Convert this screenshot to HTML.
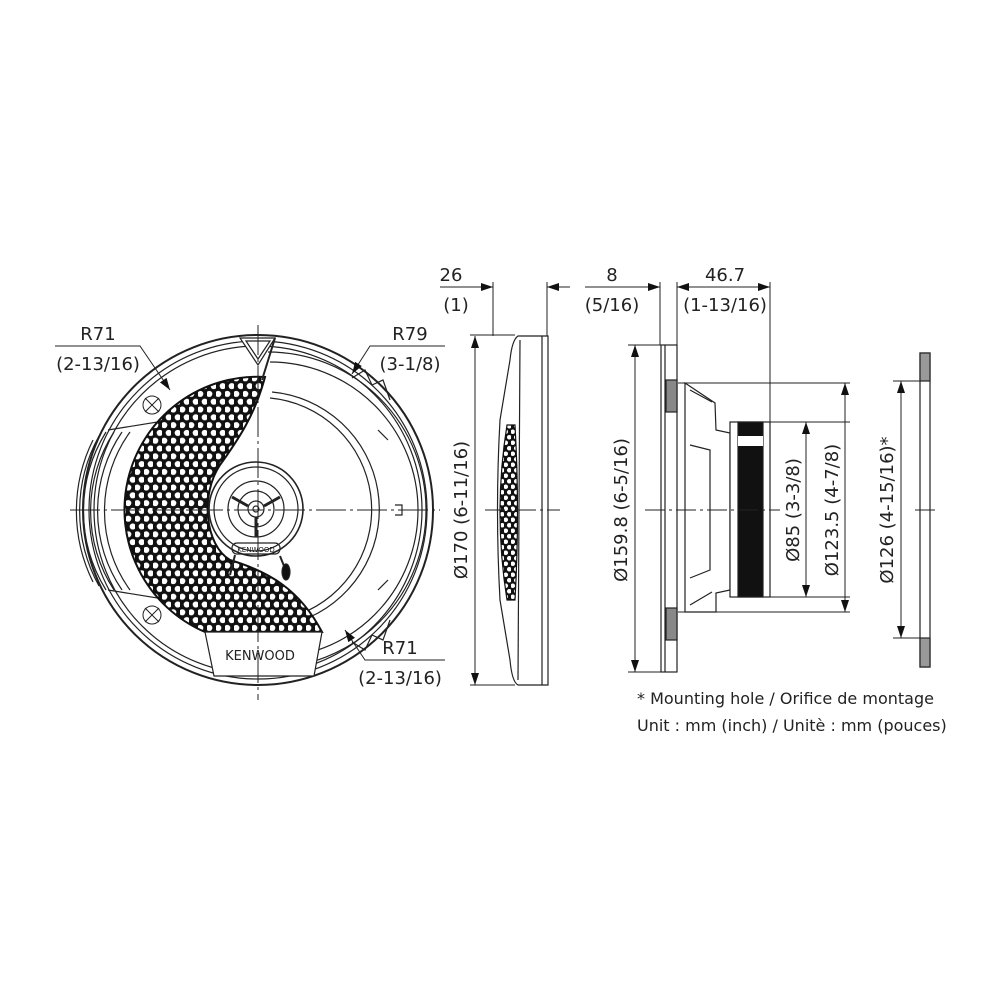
<!DOCTYPE html>
<html><head><meta charset="utf-8"><style>
html,body{margin:0;padding:0;background:#fff;}
svg{display:block}
text{font-family:"DejaVu Sans","Liberation Sans",sans-serif;fill:#222;}
</style></head><body>
<svg width="1000" height="1000" viewBox="0 0 1000 1000" xmlns="http://www.w3.org/2000/svg">
<defs>
<pattern id="dots" width="9" height="15.6" patternUnits="userSpaceOnUse">
<rect width="9" height="15.6" fill="#111"/>
<circle cx="2.25" cy="3.9" r="3.1" fill="#fff"/>
<circle cx="6.75" cy="11.7" r="3.1" fill="#fff"/>
</pattern>
<pattern id="dots2" width="7" height="11" patternUnits="userSpaceOnUse">
<rect width="7" height="11" fill="#111"/>
<circle cx="1.75" cy="2.75" r="2.3" fill="#fff"/>
<circle cx="5.25" cy="8.25" r="2.3" fill="#fff"/>
</pattern>
<marker id="ar" markerWidth="12" markerHeight="8" refX="12" refY="4" orient="auto" markerUnits="userSpaceOnUse">
<path d="M0,0 L12,4 L0,8 Z" fill="#111"/>
</marker>
</defs>
<g fill="none" stroke="#222" stroke-width="1.2">
<!-- FRONT VIEW -->
<circle cx="258" cy="510" r="175" stroke-width="2"/>
<circle cx="258" cy="510" r="169"/>
<circle cx="258" cy="510" r="164"/>
<path d="M268,352 A158,158 0 0 1 268,668"/>
<path d="M270,362 A148,148 0 0 1 270,658"/>
<path d="M270,398 A112,112 0 0 1 300,614"/>
<path d="M272,392 A118,118 0 0 1 310,617"/>
<!-- left rib area -->
<path d="M130,432 A135,135 0 0 0 130,590"/>
<path d="M122,432 A140,140 0 0 0 122,590"/>
<path d="M114,432 A145,145 0 0 0 114,590"/>
<path d="M106,432 A150,150 0 0 0 106,590"/>
<path d="M99,436 A155,155 0 0 0 99,586"/>
<path d="M93,440 A160,160 0 0 0 93,582"/>
<path d="M108,430 L170,420 L175,408"/>
<path d="M108,590 L170,600 L175,612"/>
<!-- grille -->
<path d="M265,377 A133,133 0 0 0 205,632 L322,632 C300,590 270,572 230,560 C205,545 200,495 220,465 C238,440 255,415 265,377 Z" fill="url(#dots)" stroke="#111" stroke-width="2"/>
<!-- top triangle -->
<path d="M240,338 L275,338 L258,365 Z" fill="#fff"/>
<path d="M246,341 L270,341 L258,359 Z"/>
<path d="M275,338 L262,380" stroke-width="2"/>
<!-- screws -->
<g stroke-width="1">
<circle cx="152" cy="405" r="9"/><path d="M145,398 L159,412 M159,398 L145,412"/>
<circle cx="152" cy="615" r="9"/><path d="M145,608 L159,622 M159,608 L145,622"/>
</g>
<!-- badge -->
<path d="M205,632 L322,632 L314,676 L214,676 Z" fill="#fff"/>
<!-- tweeter -->
<circle cx="256" cy="509" r="47" fill="#fff" stroke-width="1.6"/>
<circle cx="256" cy="509" r="42"/>
<circle cx="256" cy="509" r="28"/>
<circle cx="256" cy="509" r="18"/>
<circle cx="256" cy="509" r="8"/>
<circle cx="256" cy="509" r="3"/>
<path d="M232,497 L248,506 M280,497 L264,506 M256,517 L256,537" stroke-width="3"/>
<rect x="232" y="543" width="48" height="11" rx="5"/>
<path d="M235,555 L230,575" stroke-width="2"/>
<path d="M280,556 L284,566" stroke-width="2"/>
<ellipse cx="286" cy="572" rx="4" ry="8" fill="#111"/>
<!-- right side tabs -->
<path d="M352,378 L365,370 L372,385 L383,380 L390,400" />
<path d="M352,642 L365,650 L372,635 L383,640 L390,620"/>
<path d="M395,505 L402,505 L402,515 L395,515"/>
<path d="M378,430 L388,440 M378,590 L388,580"/>
<!-- centerlines -->
<path d="M70,510 L440,510 M258,325 L258,700" stroke-width="1" stroke-dasharray="30,4,3,4"/>
<!-- leaders -->
<path d="M55,346 L140,346 L170,390" stroke-width="1" marker-end="url(#ar)"/>
<path d="M445,346 L370,346 L352,374" stroke-width="1" marker-end="url(#ar)"/>
<path d="M445,660 L365,660 L345,630" stroke-width="1" marker-end="url(#ar)"/>

<!-- SIDE VIEW 1 -->
<path d="M548,336 L518,336 Q512,340 510,360 L500,420 Q495,510 500,600 L510,660 Q512,682 518,685 L548,685 Z" fill="#fff"/>
<path d="M542,336 L542,685"/>
<path d="M520,340 L518,680"/>
<path d="M507,425 Q493,512 507,600 L515,600 Q520,512 515,425 Z" fill="url(#dots2)" stroke="#111"/>
<path d="M493,282 L493,336 M547,282 L547,336" stroke-width="1"/>
<path d="M440,287 L493,287" stroke-width="1" marker-end="url(#ar)"/>
<path d="M570,287 L547,287" stroke-width="1" marker-end="url(#ar)"/>
<path d="M470,335 L515,335 M470,685 L515,685" stroke-width="1"/>
<path d="M475,510 L475,336" stroke-width="1" marker-end="url(#ar)"/>
<path d="M475,510 L475,685" stroke-width="1" marker-end="url(#ar)"/>
<path d="M485,510 L560,510" stroke-width="1" stroke-dasharray="20,4,3,4"/>

<!-- SIDE VIEW 2 -->
<path d="M660,282 L660,345 M677,282 L677,345 M770,282 L770,422" stroke-width="1"/>
<path d="M585,287 L660,287" stroke-width="1" marker-end="url(#ar)"/>
<path d="M720,287 L677,287" stroke-width="1" marker-end="url(#ar)"/>
<path d="M720,287 L770,287" stroke-width="1" marker-end="url(#ar)"/>
<rect x="661" y="345" width="16" height="327" fill="#fff"/>
<path d="M665,345 L665,672"/>
<rect x="666" y="380" width="11" height="32" fill="#888"/>
<rect x="666" y="608" width="11" height="32" fill="#888"/>
<path d="M678,383 L850,383 M678,612 L850,612" stroke-width="1"/>
<path d="M685,383 L715,403 L716,430 L730,433 L730,590 L716,593 L716,612 L685,612 Z" fill="#fff"/>
<path d="M690,390 L712,402 M690,605 L712,592 M690,445 L710,450 L710,570 L690,578"/>
<rect x="730" y="422" width="40" height="175" fill="#fff"/>
<rect x="738" y="422" width="25" height="175" fill="#111"/>
<rect x="738" y="436" width="25" height="10" fill="#fff" stroke="none"/>
<path d="M763,422 L850,422 M763,597 L850,597" stroke-width="1"/>
<path d="M806,510 L806,422" stroke-width="1" marker-end="url(#ar)"/>
<path d="M806,510 L806,597" stroke-width="1" marker-end="url(#ar)"/>
<path d="M845,500 L845,383" stroke-width="1" marker-end="url(#ar)"/>
<path d="M845,500 L845,612" stroke-width="1" marker-end="url(#ar)"/>
<path d="M628,345 L661,345 M628,672 L661,672" stroke-width="1"/>
<path d="M635,510 L635,345" stroke-width="1" marker-end="url(#ar)"/>
<path d="M635,510 L635,672" stroke-width="1" marker-end="url(#ar)"/>
<path d="M645,510 L780,510" stroke-width="1" stroke-dasharray="20,4,3,4"/>

<!-- MOUNTING PLATE -->
<rect x="920" y="353" width="10" height="314" fill="#fff"/>
<rect x="920" y="353" width="10" height="28" fill="#999"/>
<rect x="920" y="638" width="10" height="29" fill="#999"/>
<path d="M893,381 L930,381 M893,638 L930,638 M915,510 L935,510" stroke-width="1"/>
<path d="M901,510 L901,381" stroke-width="1" marker-end="url(#ar)"/>
<path d="M901,510 L901,638" stroke-width="1" marker-end="url(#ar)"/>
</g>

<!-- TEXT -->
<g font-size="18">
<text x="98" y="340" text-anchor="middle">R71</text>
<text x="98" y="370" text-anchor="middle">(2-13/16)</text>
<text x="410" y="340" text-anchor="middle">R79</text>
<text x="410" y="370" text-anchor="middle">(3-1/8)</text>
<text x="400" y="654" text-anchor="middle">R71</text>
<text x="400" y="684" text-anchor="middle">(2-13/16)</text>
<text x="451" y="281" text-anchor="middle">26</text>
<text x="456" y="311" text-anchor="middle">(1)</text>
<text x="612" y="281" text-anchor="middle">8</text>
<text x="612" y="311" text-anchor="middle">(5/16)</text>
<text x="725" y="281" text-anchor="middle">46.7</text>
<text x="725" y="311" text-anchor="middle">(1-13/16)</text>
<text transform="translate(467,510) rotate(-90)" text-anchor="middle">Ø170 (6-11/16)</text>
<text transform="translate(627,510) rotate(-90)" text-anchor="middle">Ø159.8 (6-5/16)</text>
<text transform="translate(799,510) rotate(-90)" text-anchor="middle">Ø85 (3-3/8)</text>
<text transform="translate(838,510) rotate(-90)" text-anchor="middle">Ø123.5 (4-7/8)</text>
<text transform="translate(893,510) rotate(-90)" text-anchor="middle">Ø126 (4-15/16)*</text>
<text x="637" y="704" font-size="16">* Mounting hole / Orifice de montage</text>
<text x="637" y="731" font-size="16">Unit : mm (inch) / Unitè : mm (pouces)</text>
<text x="260" y="660" font-size="13" text-anchor="middle">KENWOOD</text>
<text x="256" y="552" font-size="7" text-anchor="middle">KENWOOD</text>
</g>
</svg>
</body></html>
